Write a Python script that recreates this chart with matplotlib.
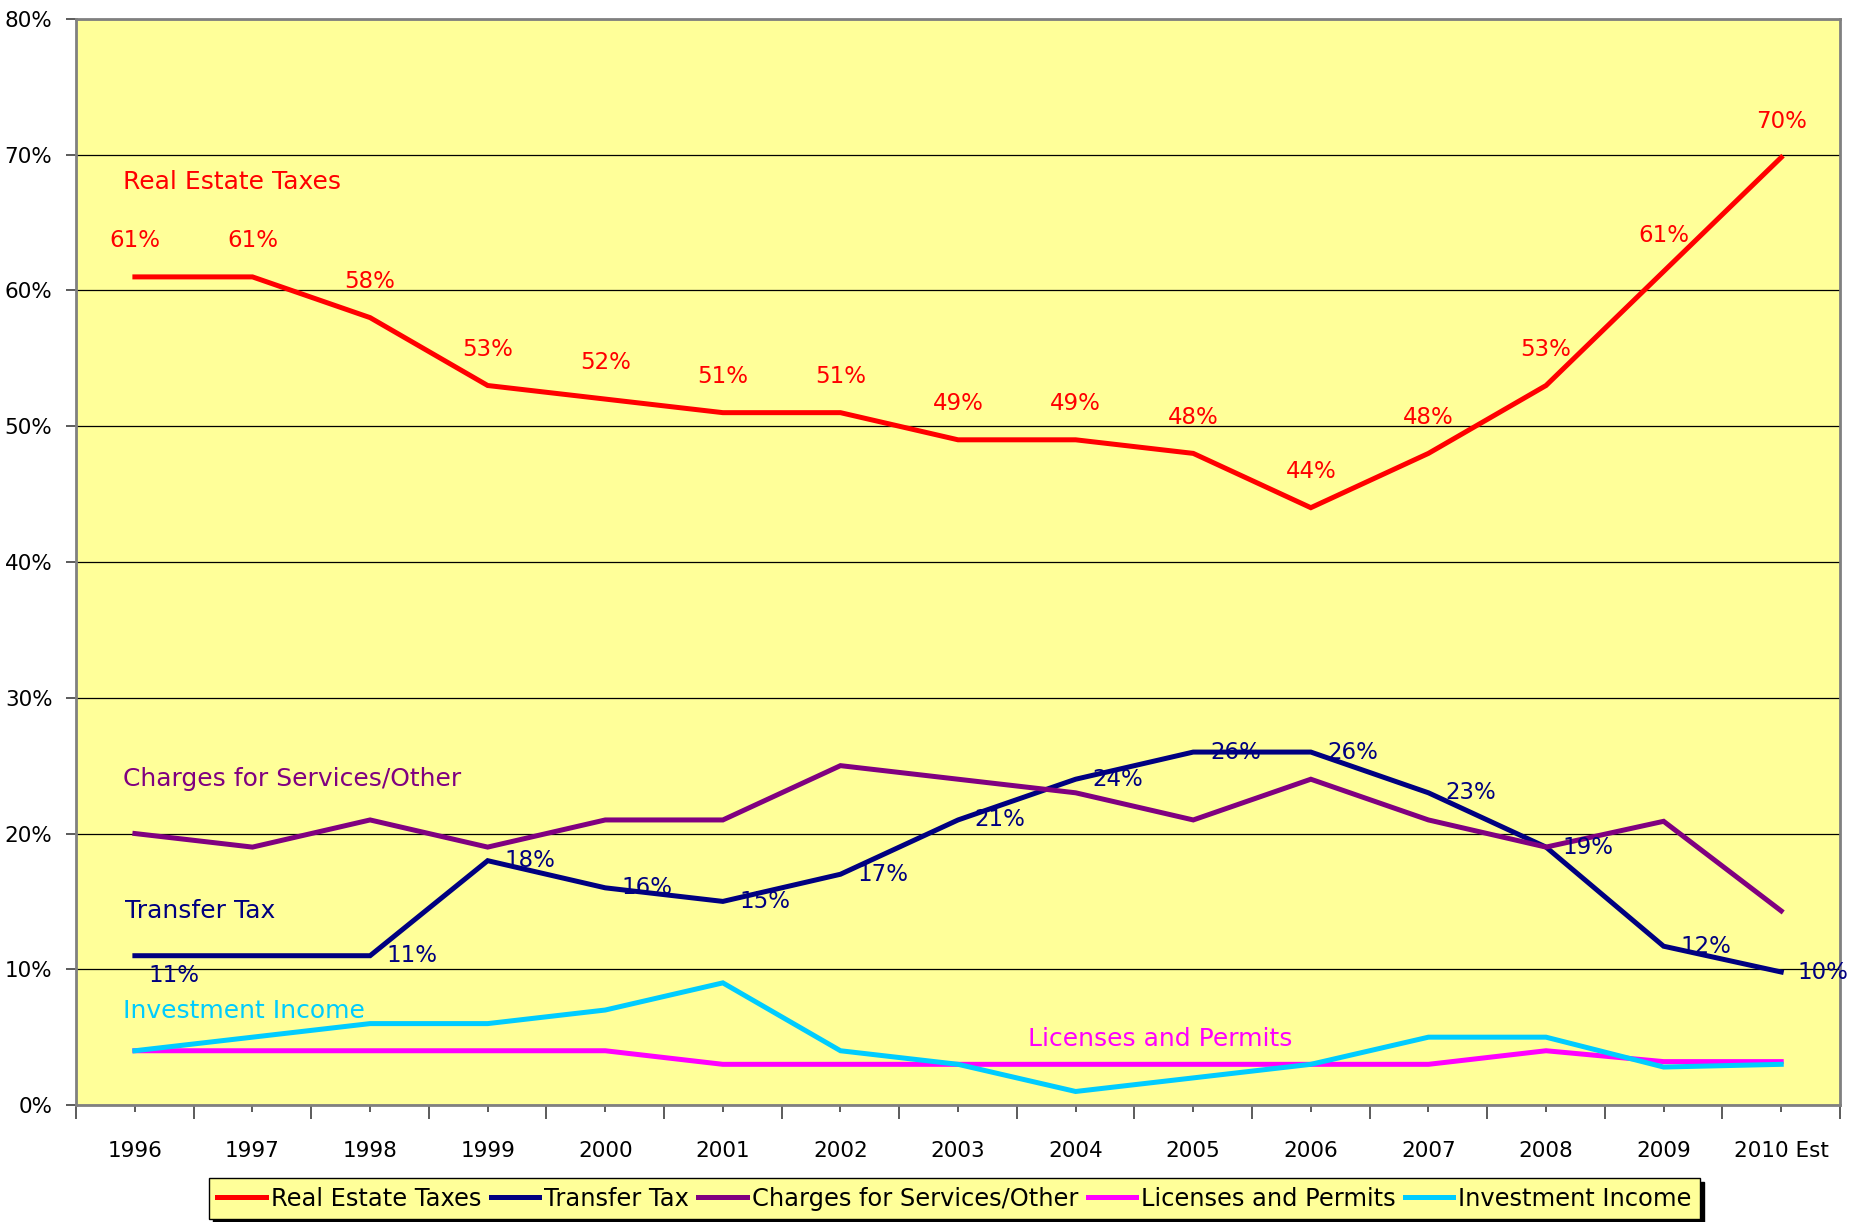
import numpy as np
import matplotlib
matplotlib.use("Agg")
import matplotlib.pyplot as plt
from matplotlib.ticker import FuncFormatter

plt.rcParams['font.family'] = ['DejaVu Sans']

years = ['1996', '1997', '1998', '1999', '2000', '2001', '2002', '2003',
         '2004', '2005', '2006', '2007', '2008', '2009', '2010 Est']

real_estate = [61, 61, 58, 53, 52, 51, 51, 49, 49, 48, 44, 48, 53, 61.4, 69.8]
real_estate_lbl = ['61%', '61%', '58%', '53%', '52%', '51%', '51%', '49%',
                   '49%', '48%', '44%', '48%', '53%', '61%', '70%']
transfer = [11, 11, 11, 18, 16, 15, 17, 21, 24, 26, 26, 23, 19, 11.7, 9.8]
transfer_lbl = ['11%', None, '11%', '18%', '16%', '15%', '17%', '21%',
                '24%', '26%', '26%', '23%', '19%', '12%', '10%']
charges = [20, 19, 21, 19, 21, 21, 25, 24, 23, 21, 24, 21, 19, 20.9, 14.3]
licenses = [4, 4, 4, 4, 4, 3, 3, 3, 3, 3, 3, 3, 4, 3.2, 3.2]
investment = [4, 5, 6, 6, 7, 9, 4, 3, 1, 2, 3, 5, 5, 2.8, 3.0]

series_names = ['Real Estate Taxes', 'Transfer Tax', 'Charges for Services/Other',
                'Licenses and Permits', 'Investment Income']
colors = ['#FF0000', '#000080', '#800080', '#FF00FF', '#00CCFF']

fig = plt.figure(figsize=(18.65, 12.22), dpi=100)
ax = fig.add_axes([0.0408, 0.0957, 0.9458, 0.8888])
ax.set_facecolor('#FFFF99')

x = np.arange(len(years))
lines = []
for vals, name, c in zip([real_estate, transfer, charges, licenses, investment],
                         series_names, colors):
    ln, = ax.plot(x, vals, color=c, lw=3.6, solid_joinstyle='miter', zorder=3)
    lines.append(ln)

# value labels
for xi, v, t in zip(x, real_estate, real_estate_lbl):
    ax.annotate(t, (xi, v), xytext=(0, 26), textcoords='offset points',
                ha='center', va='center', color='#FF0000', fontsize=16.5, zorder=4)
for xi, v, t in zip(x, transfer, transfer_lbl):
    if t is None:
        continue
    off = (10, -14) if xi == 0 else (12, 0)
    ax.annotate(t, (xi, v), xytext=off, textcoords='offset points',
                ha='left', va='center', color='#000080', fontsize=16.5, zorder=4)

# series name annotations
ax.text(-0.1, 68.0, 'Real Estate Taxes', color='#FF0000', fontsize=18, ha='left', va='center')
ax.text(-0.1, 24.0, 'Charges for Services/Other', color='#800080', fontsize=18, ha='left', va='center')
ax.text(-0.08, 14.3, 'Transfer Tax', color='#000080', fontsize=18, ha='left', va='center')
ax.text(-0.1, 6.9, 'Investment Income', color='#00CCFF', fontsize=18, ha='left', va='center')
ax.text(8.72, 4.9, 'Licenses and Permits', color='#FF00FF', fontsize=18, ha='center', va='center')

ax.set_xlim(-0.5, len(years) - 0.5)
ax.set_ylim(0, 80)
ax.set_yticks(np.arange(0, 81, 10))
ax.yaxis.set_major_formatter(FuncFormatter(lambda v, p: f'{v:.0f}%'))
ax.grid(axis='y', color='black', lw=0.9, zorder=1)
ax.set_axisbelow(True)

ax.set_xticks(np.arange(-0.5, len(years), 1))
ax.set_xticklabels([])
ax.set_xticks(x, years, minor=True)
ax.tick_params(axis='x', which='major', length=10, width=1.2, color='#404040', direction='out')
ax.tick_params(axis='x', which='minor', length=5, width=1.2, color='#404040',
               direction='out', pad=21, labelsize=15.5)
ax.tick_params(axis='y', length=7, width=1.2, color='#404040', pad=10, labelsize=15.5)

for s in ax.spines.values():
    s.set_color('#808080')
    s.set_linewidth(2)

leg = fig.legend(lines, series_names, loc='center', bbox_to_anchor=(0.5118, 0.0192),
                 ncol=5, fontsize=17.4, frameon=True, fancybox=False,
                 facecolor='#FFFF99', edgecolor='black', framealpha=1,
                 handlelength=2.0, handletextpad=0.2, columnspacing=0.4,
                 borderpad=0.35, borderaxespad=0,
                 shadow={'ox': 3, 'oy': -3, 'color': 'black', 'alpha': 1})
leg.get_frame().set_linewidth(1)

fig.savefig('out.png', dpi=100)
